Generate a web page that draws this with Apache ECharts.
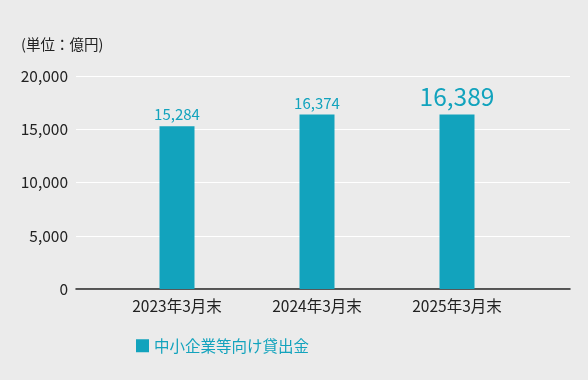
<!DOCTYPE html>
<html><head><meta charset="utf-8">
<script src="https://cdn.jsdelivr.net/npm/echarts@6/dist/echarts.min.js"></script>
<style>html,body{margin:0;padding:0;background:#ebebeb;}#c{width:588px;height:380px;}</style>
</head><body><div id="c"></div>
<script>
const categories = ['2023年3月末', '2024年3月末', '2025年3月末'];
const values = [15284, 16374, 16389];
const seriesName = '中小企業等向け貸出金';
const yTicks = [0, 5000, 10000, 15000, 20000];
const unitLabel = '(単位：億円)';

const FONT = '"Noto Sans CJK JP", "Noto Sans", sans-serif';
const TEAL = '#12a3bd';
const chart = echarts.init(document.getElementById('c'), null, {renderer: 'canvas'});
chart.setOption({
  backgroundColor: '#ebebeb',
  animation: false,
  textStyle: {fontFamily: FONT},
  title: {text: unitLabel, left: 16, top: 32, textStyle: {fontSize: 14.5, fontWeight: 'normal', color: '#222', fontFamily: FONT}},
  legend: {
    data: [seriesName], left: 131, top: 333, icon: 'rect', itemWidth: 13, itemHeight: 13, itemGap: 8,
    textStyle: {color: TEAL, fontSize: 15.5, fontFamily: FONT}
  },
  grid: [
    {left: 76, right: 18, top: 76, bottom: 91},
    {left: 107, right: 61, top: 76, bottom: 91}
  ],
  xAxis: [
    {type: 'category', gridIndex: 0, data: [''], axisLine: {lineStyle: {color: '#222', width: 1.5}}, axisTick: {show: false}, axisLabel: {show: false}},
    {type: 'category', gridIndex: 1, data: categories, axisLine: {show: false}, axisTick: {show: false},
     axisLabel: {color: '#222', fontSize: 15.5, margin: 9, fontFamily: FONT}}
  ],
  yAxis: [
    {type: 'value', gridIndex: 0, min: yTicks[0], max: yTicks[yTicks.length-1], interval: 5000,
     axisLine: {show: false}, axisTick: {show: false},
     axisLabel: {color: '#222', fontSize: 15.5, margin: 8, fontFamily: FONT, formatter: v => v.toLocaleString('en-US')},
     splitLine: {lineStyle: {color: '#ffffff', width: 1}}},
    {type: 'value', gridIndex: 1, min: yTicks[0], max: yTicks[yTicks.length-1], interval: 5000, show: false, splitLine: {show: false}}
  ],
  series: [{
    name: seriesName, type: 'bar', xAxisIndex: 1, yAxisIndex: 1, barWidth: 35,
    itemStyle: {color: TEAL},
    data: values.map((v, i) => i === values.length - 1
      ? {value: v, label: {fontSize: 24.5, distance: 6}}
      : {value: v}),
    label: {show: true, position: 'top', color: TEAL, fontSize: 15, distance: 4, fontFamily: FONT,
      formatter: p => p.value.toLocaleString('en-US')}
  }]
});
</script></body></html>
